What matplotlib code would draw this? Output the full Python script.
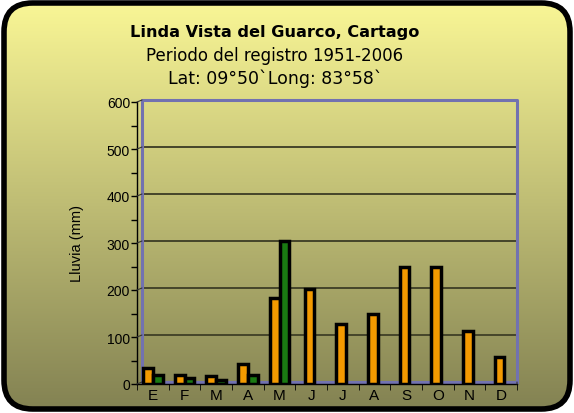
import numpy as np
import matplotlib
matplotlib.use("Agg")
import matplotlib.pyplot as plt
from matplotlib.patches import FancyBboxPatch
import matplotlib.transforms as mtransforms

months = ["E", "F", "M", "A", "M", "J", "J", "A", "S", "O", "N", "D"]
lluvia_promedio = [34, 20, 16, 43, 183, 202, 127, 150, 249, 250, 113, 57]
lluvia_registro = [20, 12, 9, 20, 305, None, None, None, None, None, None, None]
yticks = [0, 100, 200, 300, 400, 500, 600]

title = "Linda Vista del Guarco, Cartago"
sub1 = "Periodo del registro 1951-2006"
sub2 = "Lat: 09°50`Long: 83°58`"

W, H = 574, 414
fig = plt.figure(figsize=(W / 100, H / 100), dpi=100)
fig.patch.set_facecolor("white")

# background gradient
bg = fig.add_axes([0, 0, 1, 1], zorder=-10)
top = np.array([250, 247, 150]) / 255
bot = np.array([130, 129, 82]) / 255
t = np.linspace(0, 1, 256)[:, None]
grad = top[None, None, :] * (1 - t[..., None]) + bot[None, None, :] * t[..., None]
grad = np.repeat(grad, 2, axis=1)
box = FancyBboxPatch((4 / W, 4 / H), 1 - 8 / W, 1 - 8 / H,
                     boxstyle="round,pad=0,rounding_size=0.05",
                     transform=bg.transAxes, facecolor="none",
                     edgecolor="black", linewidth=4, zorder=5, mutation_aspect=W / H)
im = bg.imshow(grad, extent=[0, 1, 0, 1], aspect="auto", transform=bg.transAxes)
bg.add_patch(box)
im.set_clip_path(box)
bg.set_xlim(0, 1); bg.set_ylim(0, 1)
bg.axis("off")

cx = 275 / W
fig.text(cx, 1 - 33 / H, title, ha="center", va="center", fontsize=11.6,
         fontweight="bold", family="DejaVu Sans")
fig.text(cx, 1 - 56 / H, sub1, ha="center", va="center", fontsize=12,
         family="DejaVu Sans")
fig.text(cx, 1 - 79 / H, sub2, ha="center", va="center", fontsize=12.5,
         family="DejaVu Sans")

x0, x1 = 137, 517
y0, y1 = 385, 103
ax = fig.add_axes([x0 / W, 1 - y0 / H, (x1 - x0) / W, (y0 - y1) / H])
ax.set_facecolor("none")
ax.set_xlim(-0.5, 11.5)
ax.set_ylim(0, 600)

dx, dy = 5, 2
back = mtransforms.offset_copy(ax.transData, fig=fig, x=dx, y=dy, units="dots")
wall = "#7272b0"
xr = 11.5 - 5 / 31.7
# gridlines on the back wall
for v in yticks[1:-1]:
    ax.plot([-0.5, xr], [v, v], color="#45452a", lw=1.4,
            transform=back, zorder=1, clip_on=False)
# back wall frame
ax.plot([-0.5, -0.5, xr, xr], [0, 600, 600, 0], color=wall, lw=2.2,
        transform=back, zorder=1, clip_on=False)
ax.plot([-0.5, xr], [0, 0], color=wall, lw=2.2, transform=back,
        zorder=1, clip_on=False)
# connectors from front axis to back wall
for v in yticks:
    ax.annotate("", xy=(-0.5, v), xycoords=back, xytext=(-0.5, v),
                textcoords="data",
                arrowprops=dict(arrowstyle="-", color="#333333", lw=0.8,
                                shrinkA=0, shrinkB=0))
ax.annotate("", xy=(xr, 0), xycoords=back, xytext=(11.5, 0),
            textcoords="data", arrowprops=dict(arrowstyle="-", color="#333333",
                                               lw=0.8, shrinkA=0, shrinkB=0))

xs = np.arange(len(months))
bw = 0.31
for i in range(len(months)):
    g = lluvia_registro[i]
    if g is None:
        ax.bar(xs[i] - 0.05, lluvia_promedio[i], width=bw, color="#f39a00",
               edgecolor="black", linewidth=2.5, zorder=3)
    else:
        ax.bar(xs[i] - bw / 2, lluvia_promedio[i], width=bw, color="#f39a00",
               edgecolor="black", linewidth=2.5, zorder=3)
        ax.bar(xs[i] + bw / 2, g, width=bw, color="#1a7a12",
               edgecolor="black", linewidth=2.5, zorder=3)

for s in ["top", "right"]:
    ax.spines[s].set_visible(False)
ax.spines["left"].set_color("black")
ax.spines["bottom"].set_color("black")
ax.spines["left"].set_linewidth(1)
ax.spines["bottom"].set_linewidth(1)

ax.set_yticks(yticks)
ax.set_yticklabels([str(v) for v in yticks], fontsize=10, family="Liberation Sans")
ax.set_yticks(np.arange(50, 600, 100), minor=True)
ax.tick_params(axis="y", which="both", direction="out", length=4, pad=1, width=1)
ax.set_xticks(xs)
ax.set_xticklabels(months, fontsize=11, family="Liberation Sans")
ax.set_xticks(np.arange(-0.5, 12, 1), minor=True)
ax.tick_params(axis="x", which="major", length=0, pad=3)
ax.tick_params(axis="x", which="minor", length=4, direction="out")
ax.set_ylabel("Lluvia (mm)", fontsize=10.5, family="Liberation Sans", labelpad=16)

fig.savefig("out.png", dpi=100, facecolor="white")
